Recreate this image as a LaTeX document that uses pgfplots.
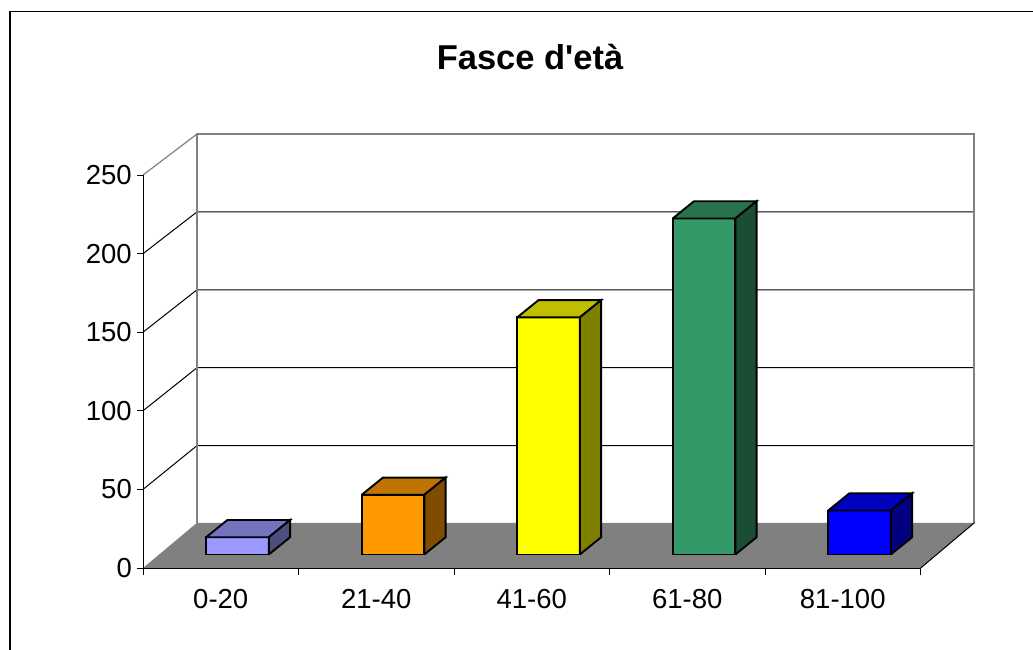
\documentclass[border=0pt]{standalone}
\usepackage{fontspec}
\setmainfont{Liberation Sans}
\usepackage{pgfplots}
\pgfplotsset{compat=1.18}
\definecolor{floorgray}{HTML}{808080}
\definecolor{wallgray}{HTML}{808080}
\definecolor{aF}{HTML}{9999FF}\definecolor{aT}{HTML}{7373BF}\definecolor{aS}{HTML}{4D4D80}
\definecolor{bF}{HTML}{FF9900}\definecolor{bT}{HTML}{BF7300}\definecolor{bS}{HTML}{804D00}
\definecolor{cF}{HTML}{FFFF00}\definecolor{cT}{HTML}{BFBF00}\definecolor{cS}{HTML}{808000}
\definecolor{dF}{HTML}{339966}\definecolor{dT}{HTML}{26734D}\definecolor{dS}{HTML}{1A4D33}
\definecolor{eF}{HTML}{0000FF}\definecolor{eT}{HTML}{0000BF}\definecolor{eS}{HTML}{000080}
\begin{document}
\begin{tikzpicture}
\useasboundingbox (0,0) rectangle (1033pt,649pt);
% ---------- main drawing axis (walls, floor, bars) ----------
\begin{axis}[at={(0,0)}, anchor=south west, width=1033pt, height=649pt, scale only axis,
  xmin=-0.9196, xmax=5.7235, ymin=-60.19, ymax=353.18, hide axis, clip=true,
  bar/.style={draw=black, line width=1.9pt, line join=miter}]
% chart frame
\addplot[draw=black, line width=1.2pt] coordinates {(-0.8553,-80) (-0.8553,345.7) (7,345.7)};
% back wall gridlines with diagonals
\addplot[black, line width=1pt] coordinates {(0,41.46) (0.3473,69.36) (5.346,69.36)};
\addplot[black, line width=1pt] coordinates {(0,91.53) (0.3473,118.98) (5.346,118.98)};
\addplot[black, line width=1pt] coordinates {(0,141.6) (0.3473,168.6) (5.346,168.6)};
\addplot[black, line width=1pt] coordinates {(0,191.6) (0.3473,218.2) (5.346,218.2)};
\addplot[wallgray, line width=1.2pt] coordinates {(0,241.7) (0.3473,267.8)};
% wall border
\addplot[wallgray, line width=2pt] coordinates {(0.3473,20.2) (0.3473,267.8) (5.346,267.8) (5.346,20.2)};
% floor
\addplot[fill=floorgray, draw=none] coordinates {(0,-8.6) (0.3473,20.2) (5.346,20.2) (5.001,-8.6) (0,-8.6)};
\addplot[black, line width=1pt] coordinates {(5.001,-8.6) (5.346,20.2)};
% bar 0-20 : 11
\addplot[bar, fill=aF] coordinates {(0.406,0) (0.809,0) (0.809,11) (0.406,11) (0.406,0)};
\addplot[bar, fill=aT] coordinates {(0.406,11) (0.809,11) (0.946,22) (0.543,22) (0.406,11)};
\addplot[bar, fill=aS] coordinates {(0.809,0) (0.946,11) (0.946,22) (0.809,11) (0.809,0)};
% bar 21-40 : 38
\addplot[bar, fill=bF] coordinates {(1.406,0) (1.809,0) (1.809,38) (1.406,38) (1.406,0)};
\addplot[bar, fill=bT] coordinates {(1.406,38) (1.809,38) (1.946,49) (1.543,49) (1.406,38)};
\addplot[bar, fill=bS] coordinates {(1.809,0) (1.946,11) (1.946,49) (1.809,38) (1.809,0)};
% bar 41-60 : 151
\addplot[bar, fill=cF] coordinates {(2.406,0) (2.809,0) (2.809,151) (2.406,151) (2.406,0)};
\addplot[bar, fill=cT] coordinates {(2.406,151) (2.809,151) (2.946,162) (2.543,162) (2.406,151)};
\addplot[bar, fill=cS] coordinates {(2.809,0) (2.946,11) (2.946,162) (2.809,151) (2.809,0)};
% bar 61-80 : 214
\addplot[bar, fill=dF] coordinates {(3.406,0) (3.809,0) (3.809,214) (3.406,214) (3.406,0)};
\addplot[bar, fill=dT] coordinates {(3.406,214) (3.809,214) (3.946,225) (3.543,225) (3.406,214)};
\addplot[bar, fill=dS] coordinates {(3.809,0) (3.946,11) (3.946,225) (3.809,214) (3.809,0)};
% bar 81-100 : 28
\addplot[bar, fill=eF] coordinates {(4.406,0) (4.809,0) (4.809,28) (4.406,28) (4.406,0)};
\addplot[bar, fill=eT] coordinates {(4.406,28) (4.809,28) (4.946,39) (4.543,39) (4.406,28)};
\addplot[bar, fill=eS] coordinates {(4.809,0) (4.946,11) (4.946,39) (4.809,28) (4.809,0)};
% title
\node[anchor=base, font=\fontsize{34.5}{41}\selectfont\bfseries] at (axis cs:2.489,309) {Fasce d\textquotesingle età};
\end{axis}
% ---------- front axis with ticks ----------
\begin{axis}[at={(143pt,81pt)}, anchor=south west, width=777.5pt, height=393pt, scale only axis,
  xmin=0, xmax=5, ymin=0, ymax=250,
  axis x line=bottom, axis y line=left,
  axis line style={-, black, line width=1pt},
  ytick={0,50,100,150,200,250},
  xtick={0.5,1.5,2.5,3.5,4.5},
  xticklabels={0-20,21-40,41-60,61-80,81-100},
  minor xtick={0,1,2,3,4,5},
  tick align=outside, major tick length=6pt, minor tick length=7pt,
  major x tick style={draw=none},
  every tick/.style={black, line width=1pt},
  tick label style={font=\fontsize{27.5}{32}\selectfont, inner sep=0pt},
  yticklabel style={xshift=-5pt},
  xticklabel style={yshift=-15pt},
  /pgf/number format/assume math mode=true]
\end{axis}
\end{tikzpicture}
\end{document}
